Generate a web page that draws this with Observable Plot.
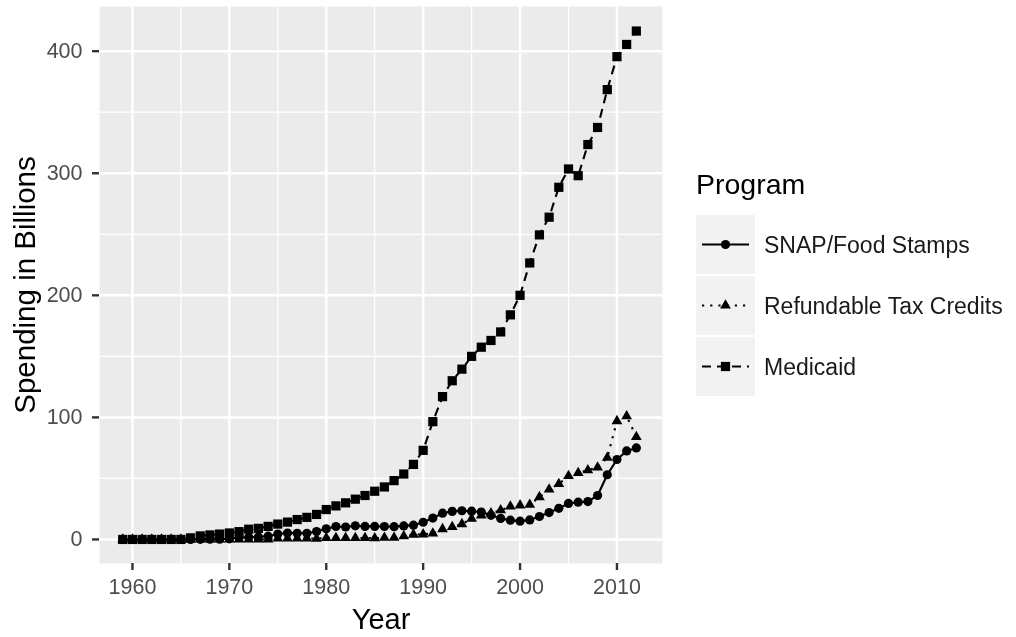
<!DOCTYPE html>
<html>
<head>
<meta charset="utf-8">
<script src="https://cdn.jsdelivr.net/npm/d3@7"></script>
<script src="https://cdn.jsdelivr.net/npm/@observablehq/plot@0.6"></script>
<style>
  html, body { margin: 0; padding: 0; background: white; }
  #wrap { position: relative; width: 1016px; height: 637px; font-family: "Liberation Sans", Arial, Helvetica, sans-serif; filter: blur(0.45px); }
  #legend { position: absolute; left: 696px; top: 0; }
</style>
</head>
<body>
<div id="wrap">
  <div id="chart"></div>
  <div id="legend"></div>
</div>
<script>
// ---- data ----
const years = [1959,1960,1961,1962,1963,1964,1965,1966,1967,1968,1969,
  1970,1971,1972,1973,1974,1975,1976,1977,1978,1979,
  1980,1981,1982,1983,1984,1985,1986,1987,1988,1989,
  1990,1991,1992,1993,1994,1995,1996,1997,1998,1999,
  2000,2001,2002,2003,2004,2005,2006,2007,2008,2009,
  2010,2011,2012];

const snap = [0,0,0,0.01,0.02,0.03,0.03,0.06,0.1,0.17,0.23,
  0.55,1.5,1.8,2.1,2.7,4.4,5.3,5.1,5.1,6.5,
  8.7,10.6,10.2,11.2,10.7,10.7,10.6,10.5,11.1,11.7,
  14.1,17.5,21.5,23,23.5,23.2,22.5,19.8,17.2,15.8,
  15.0,16,18.8,22,25.5,29.5,30.5,31,36,53,
  65.5,72.5,75];

const refundable = [0,0,0,0,0,0,0,0,0,0,0,
  0,0,0,0,0,0.9,0.9,0.9,0.8,0.7,
  1.3,1.3,1.2,1.2,1.2,1.1,1.4,1.4,2.7,4.0,
  4.2,5,8.5,10.3,12.6,17,19.8,21.4,24,27,
  28,28.5,34.7,41,45.5,52,54.5,56.8,59,67,
  97,101,84];

const medicaid = [0,0,0,0,0,0,0,1.3,2.9,3.7,4.4,
  5.3,6.4,8.4,9.1,10.7,12.6,14.2,16.3,18.1,20.5,
  24.5,27.5,30,33,36,39.5,43,48.2,53.6,61.5,
  73,96.5,117,130,139.5,150,157.5,163,170,184,
  200,226.5,249.5,264,288.5,303.5,298,323.5,337.5,368.5,
  395.5,405.5,416.5];

const programs = ["SNAP/Food Stamps", "Refundable Tax Credits", "Medicaid"];
const xTicks = [1960, 1970, 1980, 1990, 2000, 2010];
const xMinor = [1965, 1975, 1985, 1995, 2005];
const yTicks = [0, 100, 200, 300, 400];
const yMinor = [50, 150, 250, 350];

// ---- table ----
const series = [snap, refundable, medicaid];
const rows = [];
programs.forEach((p, i) => years.forEach((yr, j) => rows.push({program: p, year: yr, value: series[i][j]})));
const byProg = p => rows.filter(d => d.program === p);

const styles = {
  "SNAP/Food Stamps": {symbol: "circle", r: 4.6, dash: null},
  "Refundable Tax Credits": {symbol: "triangle", r: 4.0, dash: "2.2,6"},
  "Medicaid": {symbol: "square", r: 5.2, dash: "9,6"}
};
const lineW = 2.1;

const chart = Plot.plot({
  width: 1016,
  height: 637,
  marginLeft: 99,
  marginRight: 354,
  marginTop: 6,
  marginBottom: 74,
  style: {background: "white", fontFamily: "'Liberation Sans', Arial, Helvetica, sans-serif", fontSize: "21.5px", overflow: "visible"},
  x: {domain: [1956.6, 2014.7]},
  y: {domain: [-19.7, 436.6]},
  marks: [
    Plot.frame({fill: "#EBEBEB", stroke: "none"}),
    Plot.ruleX(xMinor, {stroke: "white", strokeWidth: 1.2}),
    Plot.ruleY(yMinor, {stroke: "white", strokeWidth: 1.2}),
    Plot.ruleX(xTicks, {stroke: "white", strokeWidth: 2.5}),
    Plot.ruleY(yTicks, {stroke: "white", strokeWidth: 2.5}),
    Plot.axisX({ticks: xTicks, tickFormat: "d", tickSize: 7, tickPadding: 8, stroke: "#333333", strokeWidth: 2.4, fill: "#4D4D4D", fontSize: 21.5, label: null}),
    Plot.axisY({ticks: yTicks, tickSize: 7, tickPadding: 10, stroke: "#333333", strokeWidth: 2.4, fill: "#4D4D4D", fontSize: 21.5, label: null}),
    Plot.text(["Year"], {text: d => d, frameAnchor: "bottom", dy: 65, lineAnchor: "bottom", fontSize: 29, fill: "black"}),
    Plot.text(["Spending in Billions"], {text: d => d, frameAnchor: "left", dx: -74, rotate: -90, textAnchor: "middle", fontSize: 29.5, fill: "black"}),
    ...programs.map(p => Plot.line(byProg(p), {x: "year", y: "value", stroke: "black", strokeWidth: lineW, strokeDasharray: styles[p].dash, strokeLinecap: "butt"})),
    ...programs.map(p => Plot.dot(byProg(p), {x: "year", y: "value", symbol: styles[p].symbol, r: styles[p].r, fill: "black", stroke: "none"}))
  ]
});
document.getElementById("chart").appendChild(chart);

// ---- legend ----
const leg = d3.select("#legend");
const lsvg = leg.append("svg").attr("width", 320).attr("height", 420).style("overflow", "visible");
lsvg.append("text").attr("x", 0).attr("y", 194).attr("font-size", 28.5).attr("fill", "black")
  .attr("font-family", "'Liberation Sans', Arial, sans-serif").text("Program");
programs.forEach((p, i) => {
  const top = 215 + i * 61;
  const g = lsvg.append("g").attr("transform", `translate(0,${top})`);
  g.append("rect").attr("width", 59).attr("height", 59).attr("fill", "#F2F2F2");
  g.append("line").attr("x1", 6).attr("x2", 53).attr("y1", 29.5).attr("y2", 29.5)
    .attr("stroke", "black").attr("stroke-width", lineW)
    .attr("stroke-dasharray", styles[p].dash || null);
  const s = styles[p];
  if (s.symbol === "circle") {
    g.append("circle").attr("cx", 29.5).attr("cy", 29.5).attr("r", s.r).attr("fill", "black");
  } else {
    const type = s.symbol === "triangle" ? d3.symbolTriangle : d3.symbolSquare;
    g.append("path").attr("transform", "translate(29.5,29.5)")
      .attr("d", d3.symbol(type, Math.PI * s.r * s.r)()).attr("fill", "black");
  }
  g.append("text").attr("x", 68).attr("y", 29.5).attr("dy", "0.35em")
    .attr("font-size", 23).attr("fill", "#1a1a1a")
    .attr("font-family", "'Liberation Sans', Arial, sans-serif").text(p);
});
</script>
</body>
</html>
